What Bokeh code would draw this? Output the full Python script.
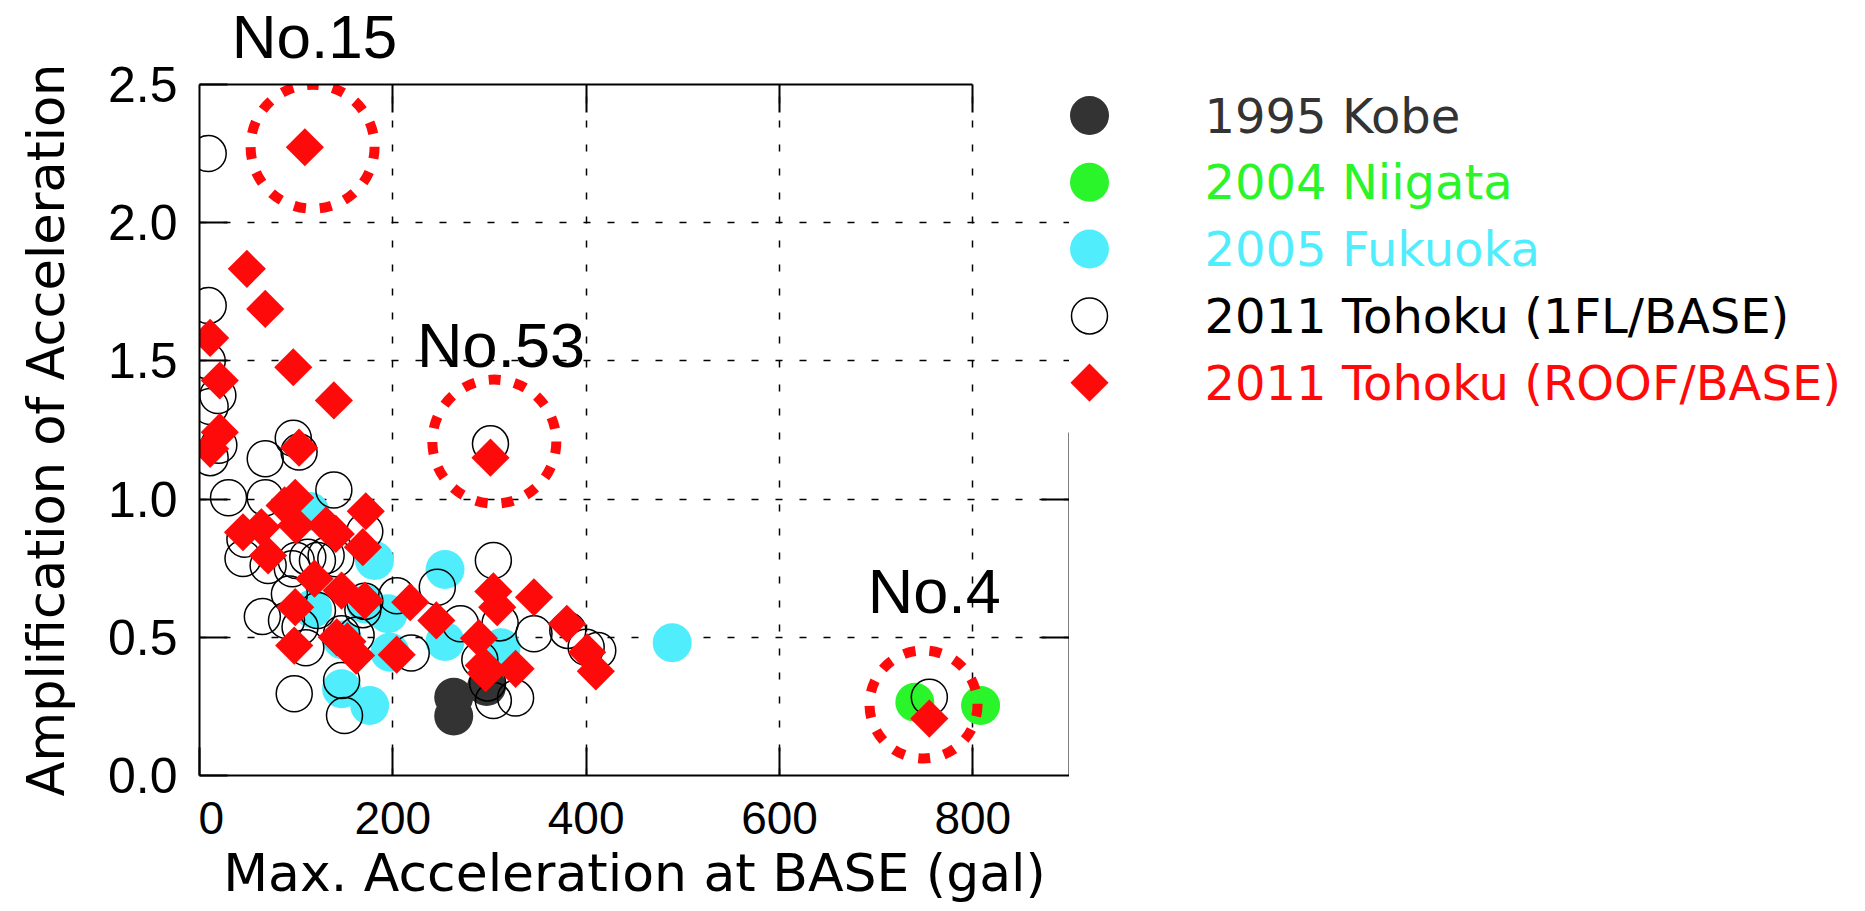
import numpy as np
from bokeh.plotting import figure
from bokeh.models import LinearAxis, FixedTicker, NumeralTickFormatter, Range1d, Label
from bokeh.layouts import row, column
from bokeh.embed import file_html
from bokeh.resources import INLINE
from bokeh.core.properties import value

# ---------------- data ----------------
KOBE_X = [263, 263, 297]
KOBE_Y = [0.283, 0.215, 0.322]

NIIGATA_X = [740, 808]
NIIGATA_Y = [0.265, 0.253]

FUKUOKA_X = [114, 117, 147, 176, 181, 195, 197, 148, 172, 254, 254, 312, 489]
FUKUOKA_Y = [0.955, 0.603, 0.314, 0.253, 0.778, 0.585, 0.446, 0.49, 0.62, 0.745, 0.485, 0.462, 0.480]

TOHOKU_1FL_X = [9, 9, 8, 19, 11, 20, 11, 97, 103, 68, 139, 30, 68, 301,
                47, 45, 71, 96, 100, 112, 122, 131, 141, 171, 93, 65, 90, 104,
                122, 110, 171, 169, 204, 162, 147, 219, 147, 98, 150, 246, 304,
                270, 311, 346, 381, 400, 412, 290, 298, 304, 327, 755]
TOHOKU_1FL_Y = [2.25, 1.70, 1.50, 1.375, 1.335, 1.195, 1.15, 1.22, 1.17, 1.146, 1.033, 1.005, 1.005, 1.20,
                0.855, 0.785, 0.76, 0.748, 0.778, 0.79, 0.778, 0.796, 0.784, 0.883, 0.657, 0.575, 0.561, 0.537,
                0.597, 0.462, 0.63, 0.60, 0.65, 0.507, 0.513, 0.443, 0.344, 0.296, 0.217, 0.681, 0.778,
                0.549, 0.552, 0.513, 0.525, 0.464, 0.452, 0.419, 0.335, 0.271, 0.28, 0.283]

TOHOKU_ROOF_X = [109, 49, 68, 11, 97, 21, 139, 21, 11, 103, 301, 99, 88, 172, 45, 64, 100,
                 131, 141, 169, 71, 119, 147, 171, 99, 218, 98, 142, 153, 162, 204, 245,
                 304, 308, 346, 380, 289, 294, 296, 327, 401, 410, 755]
TOHOKU_ROOF_Y = [2.273, 1.833, 1.688, 1.583, 1.477, 1.429, 1.357, 1.242, 1.182, 1.186, 1.150, 1.005, 0.977,
                 0.956, 0.880, 0.898, 0.905, 0.905, 0.874, 0.826, 0.796, 0.712, 0.669, 0.633, 0.609, 0.627,
                 0.470, 0.50, 0.485, 0.434, 0.437, 0.561, 0.666, 0.609, 0.645, 0.549, 0.497, 0.398, 0.37,
                 0.386, 0.446, 0.377, 0.206]

HIGHLIGHT_X = [117, 305, 749]
HIGHLIGHT_Y = [2.275, 1.208, 0.257]
HIGHLIGHT_SIZE = [124, 124, 108]

# "No.15" sits above the frame (drawn in a strip above the plot); the others inside the frame
TOP_ANNOT_TEXT = ["No.15"]
TOP_ANNOT_X = [119]
ANNOT_TEXT = ["No.53", "No.4"]
ANNOT_X = [312, 760]
ANNOT_Y = [1.556, 0.666]

X_TICKS = [0, 200, 400, 600, 800]
Y_TICKS = [0.0, 0.5, 1.0, 1.5, 2.0, 2.5]
X_GRID = [200, 400, 600, 800]
Y_GRID = [0.5, 1.0, 1.5, 2.0]

LEGEND_LABELS = ["1995 Kobe", "2004 Niigata", "2005 Fukuoka",
                 "2011 Tohoku (1FL/BASE)", "2011 Tohoku (ROOF/BASE)"]

KOBE_C = "#333333"
NIIGATA_C = "#2AF52A"
FUKUOKA_C = "#50EEFC"
RED = "#FF0A0A"
LEGEND_TEXT_COLORS = [KOBE_C, NIIGATA_C, FUKUOKA_C, "black", RED]

COMIC = "DejaVu Sans"
ARIAL = "Liberation Sans"

FRAME_W, FRAME_H = 870, 691
STRIP_H = 72
TOP_FULL = 84          # frame top, from the page top
BOTTOM_B = 136
YFIG_LEFT = 198        # width of the y-label panel (left of the frame)
MAIN_LEFT = 1


def style_axis(ax):
    ax.major_tick_in = 28
    ax.major_tick_out = 0
    ax.minor_tick_in = 0
    ax.minor_tick_out = 0
    ax.axis_line_width = 2
    ax.axis_line_color = "black"
    ax.major_tick_line_width = 2
    ax.major_tick_line_color = "black"


def hide_labels(ax):
    ax.major_label_text_font_size = "1px"
    ax.major_label_text_color = None
    ax.major_label_standoff = 0


def blank(fig):
    fig.outline_line_color = None
    fig.background_fill_color = "white"
    fig.border_fill_color = "white"


# ---------------- main plot ----------------
y_range = Range1d(0, 2.5)
p = figure(frame_width=FRAME_W, frame_height=FRAME_H,
           x_range=Range1d(0, 900), y_range=y_range,
           output_backend="svg", toolbar_location=None,
           min_border_left=MAIN_LEFT, min_border_top=TOP_FULL - STRIP_H,
           min_border_bottom=BOTTOM_B, min_border_right=0)
blank(p)

xa = p.xaxis[0]
style_axis(xa)
xa.ticker = FixedTicker(ticks=X_TICKS)
xa.bounds = (0, 900)
xa.major_label_text_font = ARIAL
xa.major_label_text_font_size = "46px"
xa.major_label_text_color = "black"
xa.major_label_standoff = 26
xa.axis_label = "Max. Acceleration at BASE (gal)"
xa.axis_label_text_font = COMIC
xa.axis_label_text_font_size = "52px"
xa.axis_label_text_font_style = "normal"
xa.axis_label_text_color = "black"
xa.axis_label_standoff = 6

ya = p.yaxis[0]
style_axis(ya)
ya.ticker = FixedTicker(ticks=Y_TICKS)
hide_labels(ya)

top_ax = LinearAxis(ticker=FixedTicker(ticks=X_GRID), bounds=(0, 800))
style_axis(top_ax)
hide_labels(top_ax)
p.add_layout(top_ax, "above")

right_ax = LinearAxis(ticker=FixedTicker(ticks=[0.5, 1.0]), bounds=(0, 1.24))
style_axis(right_ax)
hide_labels(right_ax)
p.add_layout(right_ax, "right")

p.xgrid.ticker = FixedTicker(ticks=X_GRID)
p.ygrid.ticker = FixedTicker(ticks=Y_GRID)
p.grid.grid_line_color = "black"
p.grid.grid_line_width = 1.5
p.grid.grid_line_dash = "7 17"

# data marks
p.scatter(KOBE_X, KOBE_Y, marker="circle", size=39, fill_color=KOBE_C, line_color=None)
p.scatter(NIIGATA_X, NIIGATA_Y, marker="circle", size=39, fill_color=NIIGATA_C, line_color=None)
p.scatter(FUKUOKA_X, FUKUOKA_Y, marker="circle", size=39, fill_color=FUKUOKA_C, line_color=None)
p.scatter(TOHOKU_1FL_X, TOHOKU_1FL_Y, marker="circle", size=36, fill_color=None,
          line_color="black", line_width=1.5)
p.scatter(TOHOKU_ROOF_X, TOHOKU_ROOF_Y, marker="square", angle=np.pi / 4, size=27,
          fill_color=RED, line_color=None)

# highlighted buildings
p.scatter(x=HIGHLIGHT_X, y=HIGHLIGHT_Y, size=HIGHLIGHT_SIZE, marker="circle",
          fill_color=None, line_color=RED, line_width=10, line_dash="12 14")

for t, x, y in zip(ANNOT_TEXT, ANNOT_X, ANNOT_Y):
    p.add_layout(Label(x=x, y=y, text=t, text_align="center", text_baseline="middle",
                       text_font=ARIAL, text_font_size="63px", text_color="black"))

# ---------------- strip above the plot (holds "No.15") ----------------
strip = figure(frame_width=FRAME_W, frame_height=STRIP_H,
               x_range=p.x_range, y_range=Range1d(STRIP_H, 0),
               output_backend="svg", toolbar_location=None,
               min_border_left=MAIN_LEFT, min_border_right=0,
               min_border_top=0, min_border_bottom=0,
               x_axis_type=None, y_axis_type=None)
blank(strip)
strip.grid.visible = False
strip.text(x=TOP_ANNOT_X, y=[36] * len(TOP_ANNOT_X), text=TOP_ANNOT_TEXT,
           text_font=value(ARIAL), text_font_size="62px", text_color="black",
           text_align="center", text_baseline="middle")

# ---------------- y labels panel (tick labels + axis title) ----------------
yfig = figure(frame_width=1, frame_height=FRAME_H,
              x_range=Range1d(0, 1), y_range=y_range,
              output_backend="svg", toolbar_location=None,
              min_border_left=YFIG_LEFT - 1, min_border_right=0,
              min_border_top=TOP_FULL, min_border_bottom=BOTTOM_B,
              x_axis_type=None)
blank(yfig)
yfig.grid.visible = False
yl = yfig.yaxis[0]
yl.ticker = FixedTicker(ticks=Y_TICKS)
yl.formatter = NumeralTickFormatter(format="0.0")
yl.axis_line_color = None
yl.major_tick_line_color = None
yl.minor_tick_line_color = None
yl.major_tick_in = 0
yl.major_tick_out = 0
yl.minor_tick_in = 0
yl.minor_tick_out = 0
yl.major_label_text_font = ARIAL
yl.major_label_text_font_size = "50px"
yl.major_label_text_color = "black"
yl.major_label_standoff = 20
yl.axis_label = "Amplification of Acceleration"
yl.axis_label_text_font = COMIC
yl.axis_label_text_font_size = "51px"
yl.axis_label_text_font_style = "normal"
yl.axis_label_text_color = "black"
yl.axis_label_standoff = 29

# ---------------- legend panel ----------------
LEG_W = 785
LEG_MARKER_X = 20
LEG_TEXT_X = 135
LEG_TOP = 31
LEG_STEP = 66.8

lg = figure(frame_width=LEG_W, frame_height=FRAME_H,
            x_range=Range1d(0, LEG_W), y_range=Range1d(FRAME_H, 0),
            output_backend="svg", toolbar_location=None,
            min_border_left=0, min_border_right=0,
            min_border_top=TOP_FULL, min_border_bottom=BOTTOM_B,
            x_axis_type=None, y_axis_type=None)
blank(lg)
lg.grid.visible = False

rows_y = [LEG_TOP + i * LEG_STEP for i in range(len(LEGEND_LABELS))]
lg.scatter([LEG_MARKER_X], [rows_y[0]], marker="circle", size=39, fill_color=KOBE_C, line_color=None)
lg.scatter([LEG_MARKER_X], [rows_y[1]], marker="circle", size=39, fill_color=NIIGATA_C, line_color=None)
lg.scatter([LEG_MARKER_X], [rows_y[2]], marker="circle", size=39, fill_color=FUKUOKA_C, line_color=None)
lg.scatter([LEG_MARKER_X], [rows_y[3]], marker="circle", size=36, fill_color=None,
           line_color="black", line_width=1.5)
lg.scatter([LEG_MARKER_X], [rows_y[4]], marker="square", angle=np.pi / 4, size=27,
           fill_color=RED, line_color=None)
lg.text(x=[LEG_TEXT_X] * len(LEGEND_LABELS), y=rows_y, text=LEGEND_LABELS,
        text_color=LEGEND_TEXT_COLORS, text_font=value(COMIC), text_font_size="48px",
        text_baseline="middle", text_align="left")

layout = row(yfig, column(strip, p), lg)
open("out.html", "w").write(file_html(layout, INLINE))
